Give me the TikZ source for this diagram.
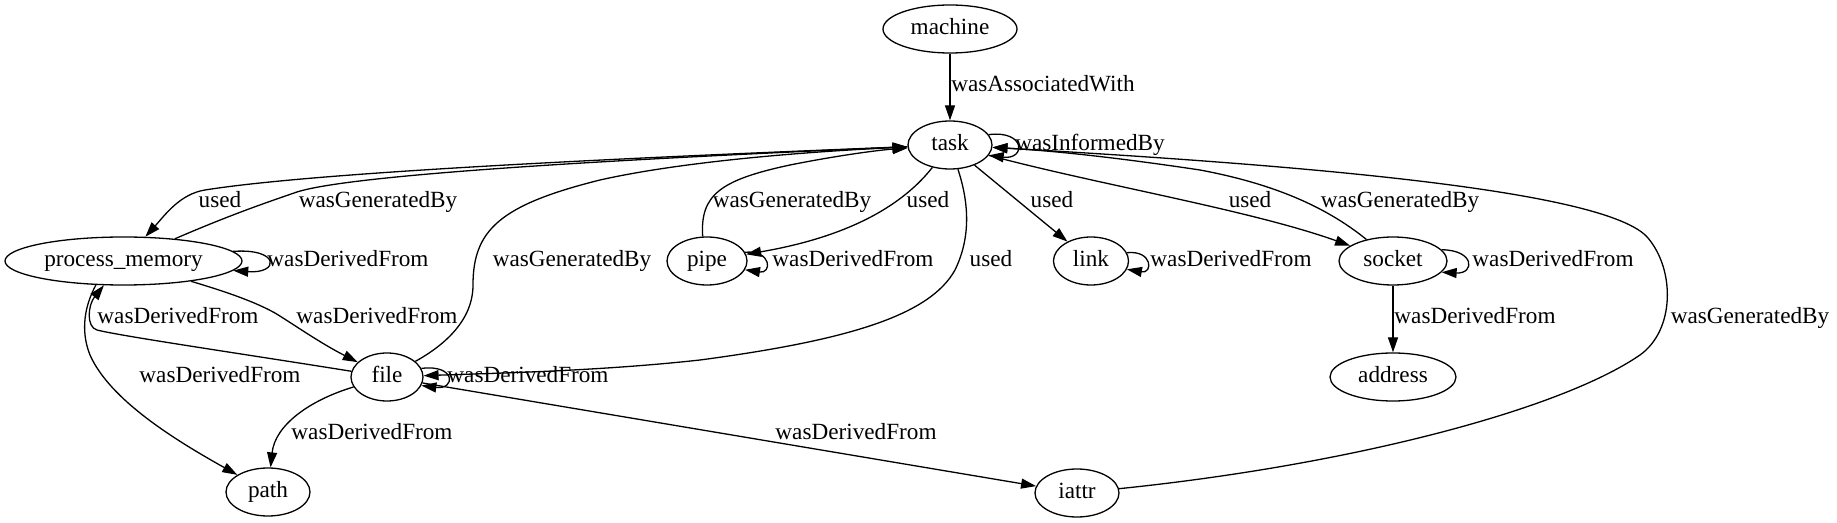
\documentclass[tikz,border=0pt]{standalone}
\usepackage{fontspec}
\setmainfont{Liberation Serif}
\usetikzlibrary{arrows.meta,shapes.geometric}

\newcommand{\nlab}[1]{\makebox[0pt]{#1}}

\begin{document}
\begin{tikzpicture}[>={Triangle[length=7.5pt,width=5pt]}, line width=0.65pt, x=0.5pt, y=-0.5pt,
  ent/.style={draw, ellipse, inner sep=0pt, minimum height=24pt, text height=8pt, text depth=2.5pt, font=\fontsize{11.6}{13}\selectfont},
  lbl/.style={inner sep=0pt, text height=8pt, text depth=2.5pt, font=\fontsize{11.6}{13}\selectfont},
  edge/.style={->}]
  \useasboundingbox (0,0) rectangle (1837,523);
  % entities
  \node[ent, minimum width=67pt]    (machine) at (950,29)   {\nlab{machine}};
  \node[ent, minimum width=42pt]    (task)    at (950,145)  {\nlab{task}};
  \node[ent, minimum width=118.5pt] (pm)      at (123.5,261) {\nlab{process\_memory}};
  \node[ent, minimum width=40pt]    (pipe)    at (707,261)  {\nlab{pipe}};
  \node[ent, minimum width=37.5pt]  (link)    at (1091,261) {\nlab{link}};
  \node[ent, minimum width=54pt]    (socket)  at (1393,261) {\nlab{socket}};
  \node[ent, minimum width=63pt]    (address) at (1393,377) {\nlab{address}};
  \node[ent, minimum width=36pt]    (file)    at (387,377)  {\nlab{file}};
  \node[ent, minimum width=42pt]    (path)    at (268,492)  {\nlab{path}};
  \node[ent, minimum width=42pt]    (iattr)   at (1077,493) {\nlab{iattr}};

  % relations
  \draw[edge] (machine) -- (task);
  \draw[edge] (task.15) .. controls (1026,130) and (1026,160) .. (task.345);
  \draw[edge] (task) .. controls (700,155) and (330,170) .. (205,190)
    .. controls (180,194) and (165,215) .. (pm);
  \draw[edge] (pm) .. controls (230,215) and (265,203) .. (297,192)
    .. controls (350,175) and (600,160) .. (task);
  \draw[edge] (pm.5) .. controls (280,248) and (280,274) .. (pm.355);
  \draw[edge] (pm) .. controls (230,293) and (255,302) .. (275,313)
    .. controls (290,322) and (320,343) .. (file);
  \draw[edge] (file) .. controls (250,355) and (120,336) .. (97,330)
    .. controls (86,327) and (88,305) .. (pm);
  \draw[edge] (pm.221) .. controls (85,305) and (80,330) .. (90,355)
    .. controls (110,400) and (175,440) .. (path);
  \draw[edge] (file) .. controls (445,345) and (473,320) .. (473,285)
    .. controls (473,230) and (500,205) .. (600,180)
    .. controls (680,162) and (800,152) .. (task);
  \draw[edge] (task) .. controls (968,200) and (972,235) .. (955,270)
    .. controls (930,315) and (850,340) .. (700,360)
    .. controls (600,371) and (500,373) .. (file);
  \draw[edge] (file.14) .. controls (456,364) and (456,390) .. (file.346);
  \draw[edge] (file) .. controls (310,400) and (275,425) .. (path);
  \draw[edge] (file) -- (iattr);
  \draw[edge] (iattr) .. controls (1350,465) and (1560,410) .. (1640,355)
    .. controls (1675,330) and (1675,270) .. (1648,238)
    .. controls (1608,190) and (1300,165) .. (task);
  \draw[edge] (task) .. controls (895,215) and (830,240) .. (pipe);
  \draw[edge] (pipe.100) .. controls (700,195) and (720,180) .. (790,165)
    .. controls (840,155) and (880,150) .. (task);
  \draw[edge] (pipe.13) .. controls (772,250) and (772,274) .. (pipe.347);
  \draw[edge] (task) -- (link);
  \draw[edge] (link.13) .. controls (1153,250) and (1153,274) .. (link.347);
  \draw[edge] (task) .. controls (1100,185) and (1250,210) .. (socket);
  \draw[edge] (socket) .. controls (1330,210) and (1280,185) .. (1200,170)
    .. controls (1100,155) and (1040,150) .. (task);
  \draw[edge] (socket.13) .. controls (1475,250) and (1475,274) .. (socket.347);
  \draw[edge] (socket) -- (address);

  % edge labels
  \node[lbl] (l-assoc)  at (1043,86)  {wasAssociatedWith};
  \node[lbl] (l-inf)    at (1090,145) {wasInformedBy};
  \node[lbl] (l-u-pm)   at (220,202)  {used};
  \node[lbl] (l-g-pm)   at (378,202)  {wasGeneratedBy};
  \node[lbl] (l-g-pipe) at (792,202)  {wasGeneratedBy};
  \node[lbl] (l-u-pipe) at (928,202)  {used};
  \node[lbl] (l-u-link) at (1052,202) {used};
  \node[lbl] (l-u-sock) at (1250,202) {used};
  \node[lbl] (l-g-sock) at (1400,202) {wasGeneratedBy};
  \node[lbl] (l-d-pm)   at (348,261)  {wasDerivedFrom};
  \node[lbl] (l-g-file) at (572,261)  {wasGeneratedBy};
  \node[lbl] (l-d-pipe) at (853,261)  {wasDerivedFrom};
  \node[lbl] (l-u-file) at (991,261)  {used};
  \node[lbl] (l-d-link) at (1231,261) {wasDerivedFrom};
  \node[lbl] (l-d-sock) at (1553,261) {wasDerivedFrom};
  \node[lbl] (l-d-fpm)  at (178,318)  {wasDerivedFrom};
  \node[lbl] (l-d-pmf)  at (377,318)  {wasDerivedFrom};
  \node[lbl] (l-d-addr) at (1475,318) {wasDerivedFrom};
  \node[lbl] (l-g-iat)  at (1750,318) {wasGeneratedBy};
  \node[lbl] (l-d-path) at (220,377)  {wasDerivedFrom};
  \node[lbl] (l-d-file) at (528,377)  {wasDerivedFrom};
  \node[lbl] (l-d-fp)   at (372,434)  {wasDerivedFrom};
  \node[lbl] (l-d-iat)  at (856,434)  {wasDerivedFrom};
\end{tikzpicture}
\end{document}
